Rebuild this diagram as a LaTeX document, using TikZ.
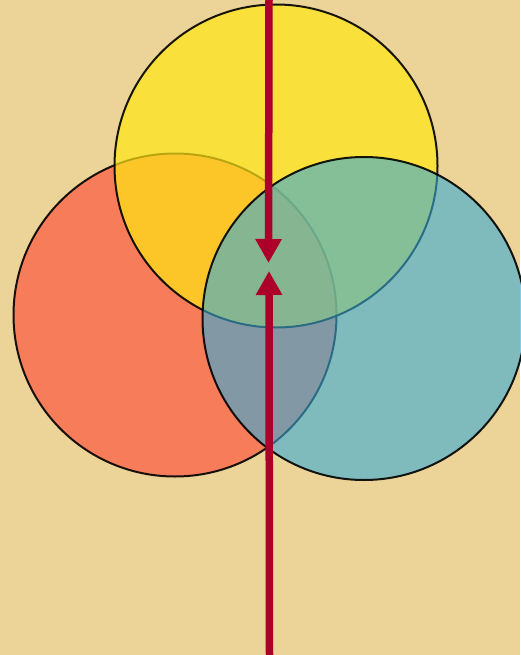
\documentclass[tikz,border=0pt]{standalone}
\usetikzlibrary{arrows.meta}
\definecolor{papyrus}{RGB}{236,212,152}
\definecolor{cred}{RGB}{250,110,80}
\definecolor{cyellow}{RGB}{255,230,20}
\definecolor{cblue}{RGB}{55,170,215}
\definecolor{arrowred}{RGB}{172,0,42}
\tikzset{
  venn/.style={circle, draw=black, line width=2pt, minimum size=323pt, inner sep=0pt, outer sep=0pt, draw opacity=0.9},
  conn/.style={draw=arrowred, line width=7.5pt, -{Triangle[width=25pt,length=24pt]}}
}
\begin{document}
\begin{tikzpicture}[x=1pt,y=-1pt]
\fill[papyrus] (0,0) rectangle (520,655);
\useasboundingbox (0,0) rectangle (520,655);
\node[venn, fill=cred, fill opacity=0.85] (red) at (175,315) {};
\node[venn, fill=cyellow, fill opacity=0.7] (yellow) at (276,166) {};
\node[venn, fill=cblue, fill opacity=0.6] (blue) at (364,318.5) {};
\coordinate (top) at (269,-2);
\coordinate (topend) at (268.5,263);
\coordinate (bot) at (269.5,657);
\coordinate (botend) at (269,271);
\draw[conn] (top) -- (topend);
\draw[conn] (bot) -- (botend);
\end{tikzpicture}
\end{document}
